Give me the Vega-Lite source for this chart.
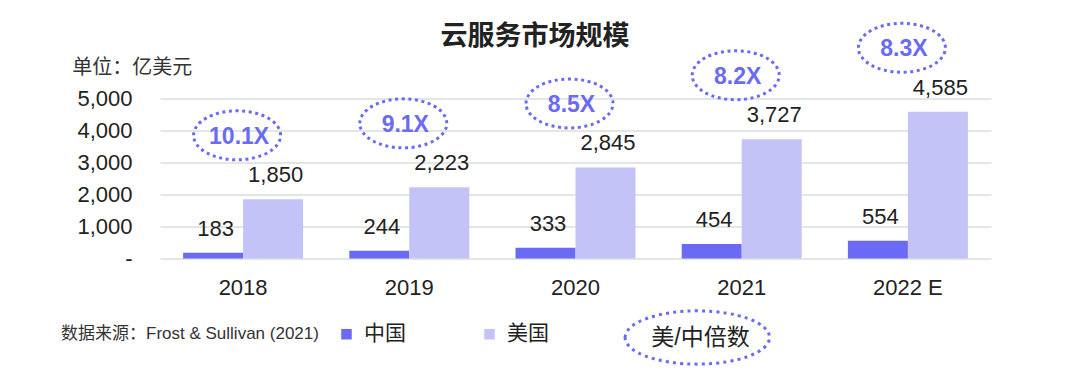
{
  "$schema": "https://vega.github.io/schema/vega-lite/v6.json",
  "width": 831,
  "height": 160,
  "autosize": {"type": "none"},
  "padding": {"left": 160, "top": 98.5, "right": 89, "bottom": 123.5},
  "background": "white",
  "config": {
    "view": {"stroke": null},
    "font": "Liberation Sans, Noto Sans CJK SC, sans-serif"
  },
  "title": {
    "text": "云服务市场规模",
    "fontSize": 27,
    "fontWeight": "bold",
    "color": "#222222",
    "frame": "group",
    "anchor": "middle",
    "dx": -40.5,
    "offset": -34
  },
  "data": {
    "values": [
      {"year": "2018", "country": "中国", "value": 183},
      {"year": "2018", "country": "美国", "value": 1850, "ratio": "10.1X"},
      {"year": "2019", "country": "中国", "value": 244},
      {"year": "2019", "country": "美国", "value": 2223, "ratio": "9.1X"},
      {"year": "2020", "country": "中国", "value": 333},
      {"year": "2020", "country": "美国", "value": 2845, "ratio": "8.5X"},
      {"year": "2021", "country": "中国", "value": 454},
      {"year": "2021", "country": "美国", "value": 3727, "ratio": "8.2X"},
      {"year": "2022 E", "country": "中国", "value": 554},
      {"year": "2022 E", "country": "美国", "value": 4585, "ratio": "8.3X"}
    ]
  },
  "encoding": {
    "x": {
      "field": "year",
      "type": "nominal",
      "sort": null,
      "scale": {"paddingInner": 0.278, "paddingOuter": 0.139},
      "axis": {
        "title": null,
        "labelAngle": 0,
        "labelFontSize": 22,
        "labelColor": "#222222",
        "labelPadding": 19,
        "ticks": false,
        "domain": false,
        "grid": false
      }
    },
    "y": {
      "field": "value",
      "type": "quantitative",
      "scale": {"domain": [0, 5000], "nice": false},
      "axis": {
        "title": "单位：亿美元",
        "titleAngle": 0,
        "titleAlign": "left",
        "titleBaseline": "middle",
        "titleX": -88.3,
        "titleY": -31,
        "titleFontSize": 20,
        "titleFontWeight": "normal",
        "titleColor": "#333333",
        "values": [0, 1000, 2000, 3000, 4000, 5000],
        "labelExpr": "datum.value == 0 ? '-' : format(datum.value, ',')",
        "labelFontSize": 22,
        "labelColor": "#222222",
        "labelPadding": 28,
        "ticks": false,
        "domain": false,
        "gridColor": "#d9dedd",
        "gridWidth": 1.5,
        "encode": {"labels": {"update": {"dx": {"signal": "datum.value == 0 ? -10 : 0"}}}}
      }
    }
  },
  "layer": [
    {
      "mark": {"type": "bar"},
      "encoding": {
        "xOffset": {"field": "country", "type": "nominal", "sort": ["中国", "美国"], "scale": {"paddingInner": 0, "paddingOuter": 0}},
        "color": {
          "field": "country",
          "type": "nominal",
          "sort": ["中国", "美国"],
          "scale": {"domain": ["中国", "美国"], "range": ["#6a6af4", "#c3c3f8"]},
          "legend": {
            "title": "数据来源：Frost & Sullivan (2021)",
            "titleOrient": "left",
            "titleFontSize": 17,
            "titleFontWeight": "normal",
            "titleColor": "#333333",
            "titlePadding": 17,
            "titleLimit": 500,
            "titleBaseline": "middle",
            "orient": "none",
            "legendX": -99,
            "legendY": 225,
            "direction": "horizontal",
            "padding": 0,
            "symbolType": "square",
            "symbolSize": 110,
            "symbolStrokeWidth": 0,
            "labelFontSize": 21,
            "labelColor": "#222222",
            "labelOffset": 7,
            "columnPadding": 73
          }
        }
      }
    },
    {
      "mark": {"type": "text", "fontSize": 22, "color": "#222222", "baseline": "alphabetic", "dy": -17, "dx": 2.5},
      "encoding": {
        "xOffset": {"field": "country", "type": "nominal", "sort": ["中国", "美国"]},
        "text": {"field": "value", "type": "quantitative", "format": ","}
      }
    },
    {
      "transform": [{"filter": "datum.country == '美国'"}],
      "mark": {
        "type": "point",
        "filled": false,
        "shape": "M-1,0A1,0.563 0 1,1 1,0A1,0.563 0 1,1 -1,0Z",
        "color": "#6b6bf0",
        "strokeWidth": 3,
        "strokeDash": [3, 3.6],
        "size": 7569,
        "opacity": 1,
        "xOffset": -6,
        "yOffset": -64
      },
      "encoding": {}
    },
    {
      "transform": [{"filter": "datum.country == '美国'"}],
      "mark": {
        "type": "point",
        "filled": false,
        "color": "#6b6bf0",
        "opacity": 0,
        "size": 100
      },
      "encoding": {
        "shape": {
          "datum": "美/中倍数",
          "type": "nominal",
          "scale": {"range": ["M-1,0A1,0.369 0 1,1 1,0A1,0.369 0 1,1 -1,0Z"]},
          "legend": {
            "title": null,
            "orient": "none",
            "legendX": 463.3,
            "legendY": 165,
            "padding": 0,
            "symbolSize": 20851,
            "symbolStrokeWidth": 3,
            "symbolDash": [3, 4.2],
            "symbolStrokeColor": "#6b6bf0",
            "symbolFillColor": "transparent",
            "symbolOpacity": 1,
            "labelFontSize": 23,
            "labelColor": "#222222",
            "labelOffset": -120
          }
        }
      }
    },
    {
      "transform": [{"filter": "datum.country == '美国'"}],
      "mark": {"type": "text", "fontSize": 23, "fontWeight": "bold", "color": "#6b6bf0", "baseline": "alphabetic", "dx": -4, "dy": -55.6},
      "encoding": {
        "text": {"field": "ratio", "type": "nominal"}
      }
    }
  ]
}
